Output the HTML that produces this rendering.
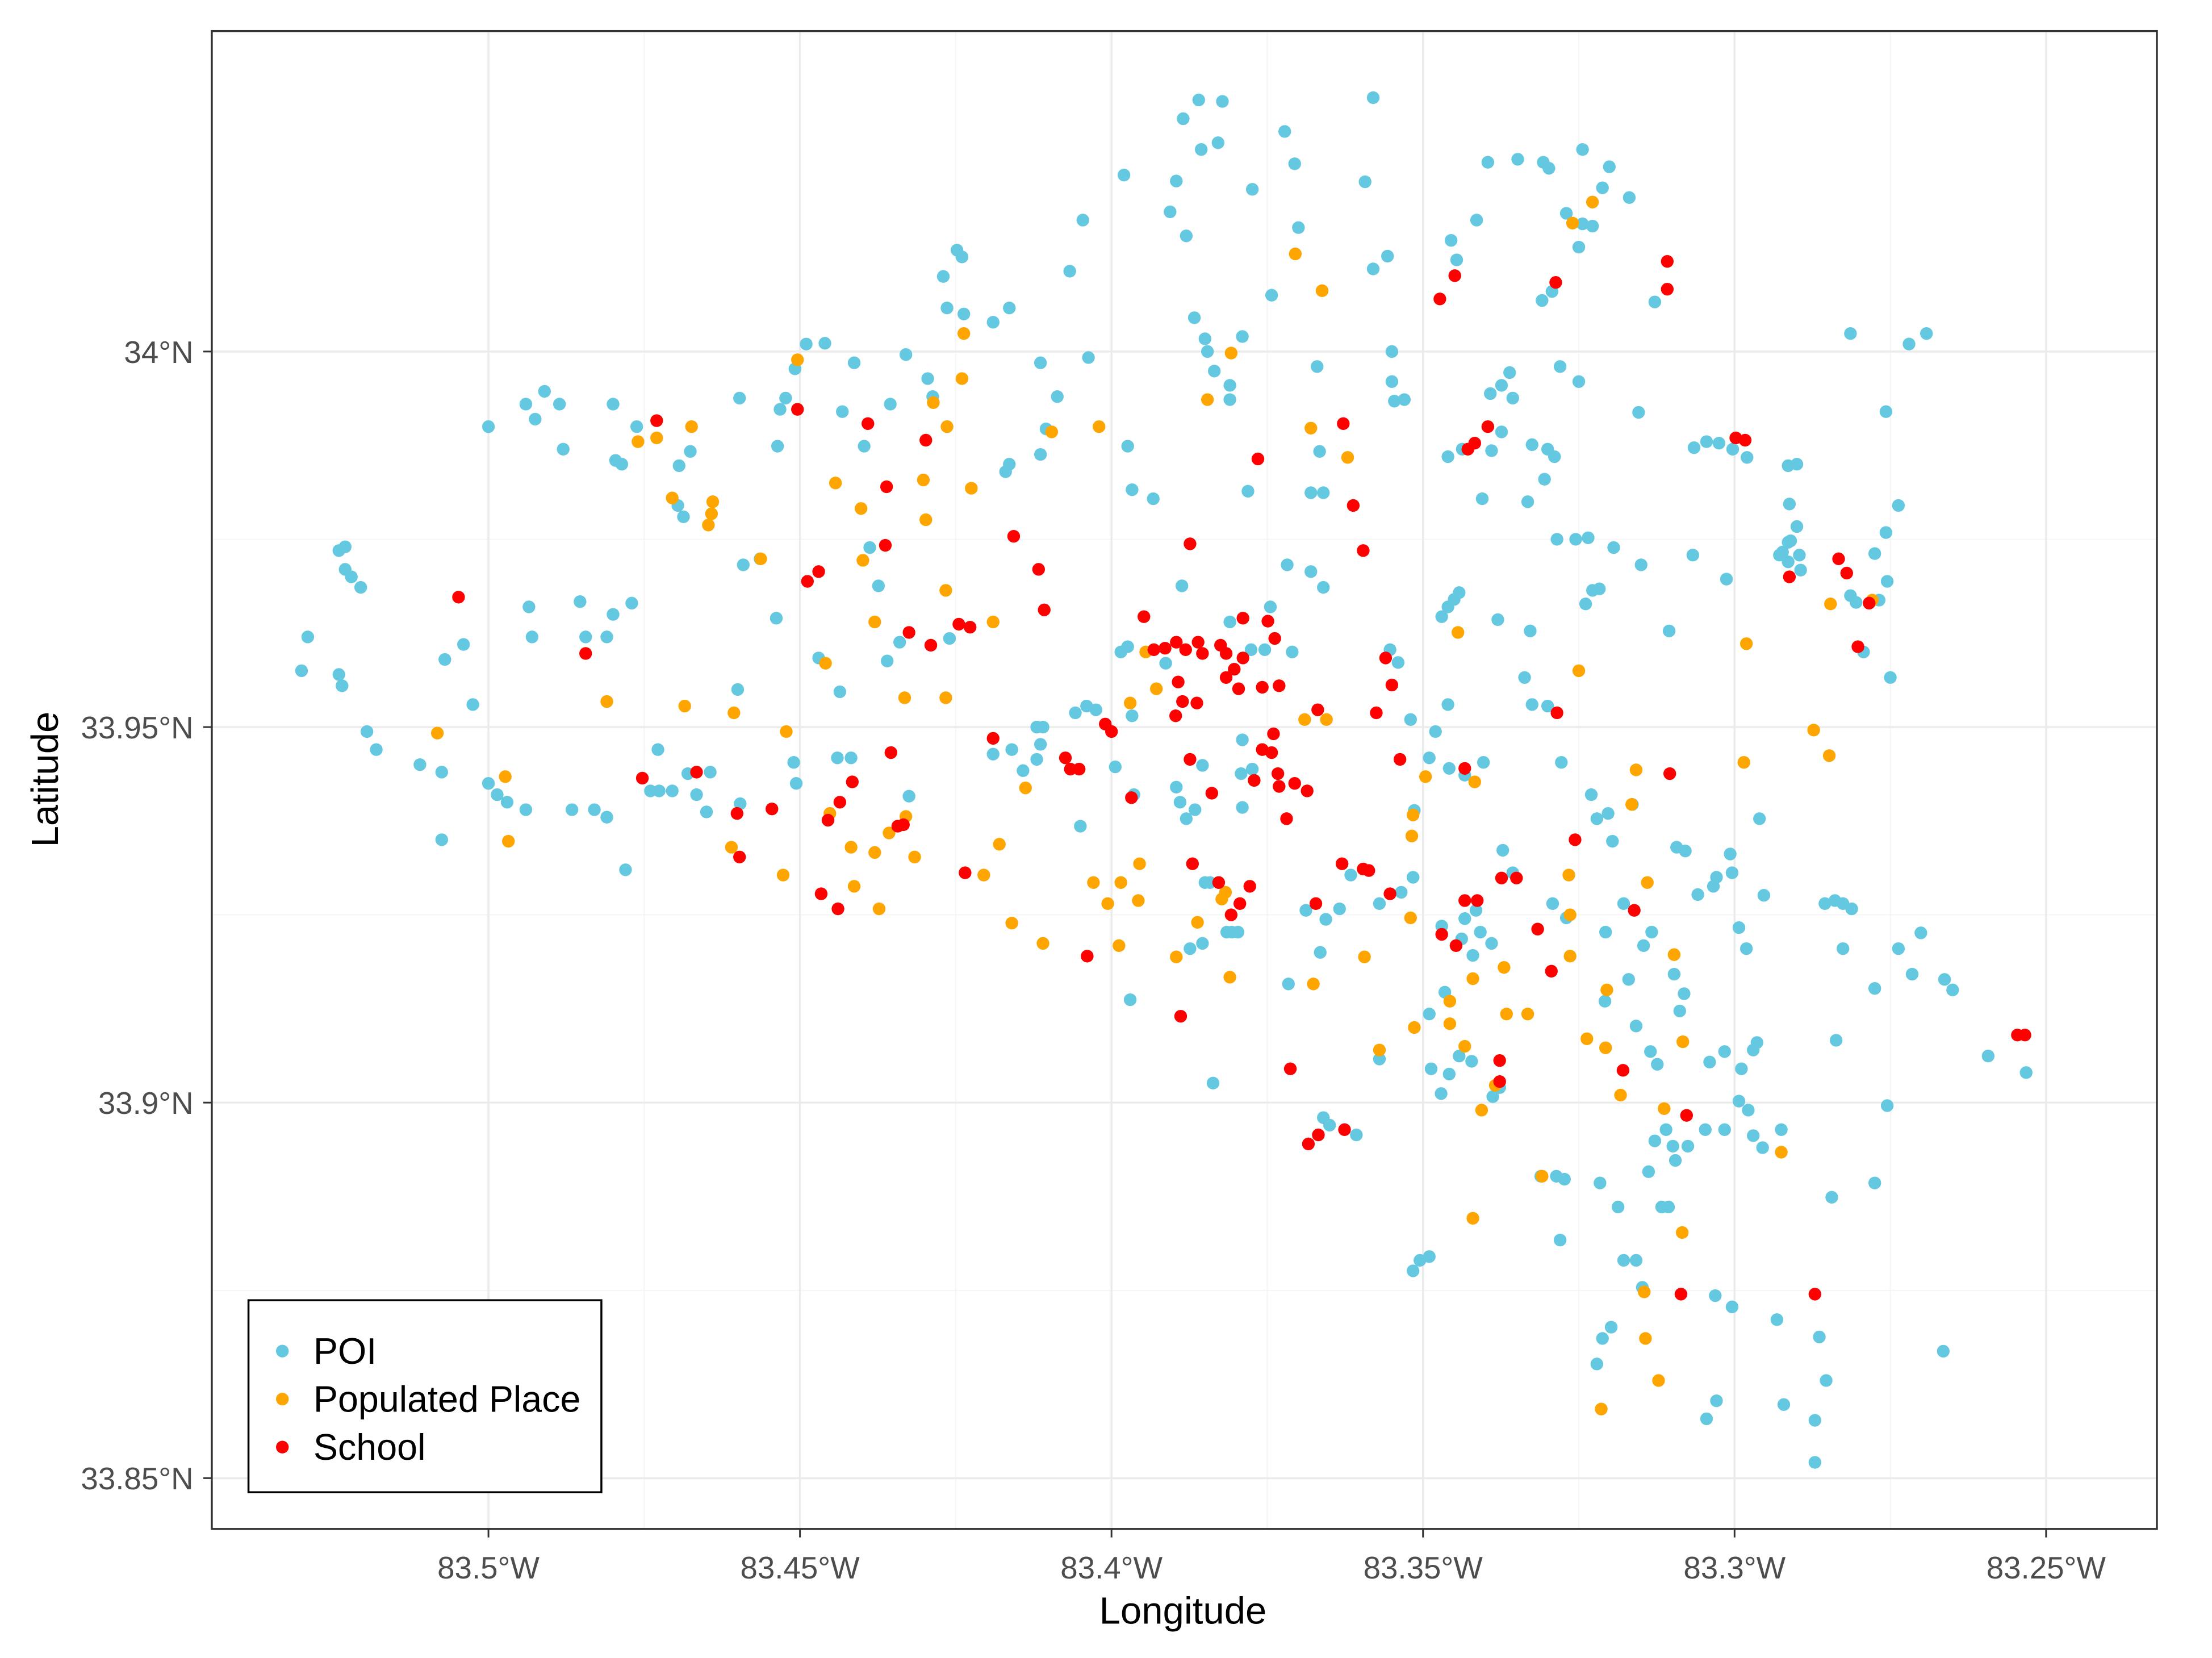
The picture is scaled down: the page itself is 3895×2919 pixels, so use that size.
<!DOCTYPE html>
<html><head><meta charset="utf-8"><style>
html,body{margin:0;padding:0;background:#fff}
svg{display:block}
text{font-family:"Liberation Sans",Arial,sans-serif}
</style></head><body>
<svg id="chart" width="3895" height="2919" viewBox="0 0 1567 1174.4" xmlns="http://www.w3.org/2000/svg">
<rect x="0" y="0" width="1567" height="1175" fill="#fff"/>
<g id="grid"></g>
<g id="points"></g>
<rect x="150" y="22" width="1378" height="1061" fill="none" stroke="#333" stroke-width="1.4"/>
<g id="axes"></g>
<text x="838" y="1150" font-size="27" text-anchor="middle" fill="#000">Longitude</text>
<text transform="translate(41,552) rotate(-90)" font-size="27" text-anchor="middle" fill="#000">Latitude</text>
<g>
<rect x="176" y="921" width="250" height="136" fill="#fff" stroke="#000" stroke-width="1.4"/>
<g><circle cx="200" cy="957" r="4.5" fill="#64c8e1"/><text x="222" y="966" font-size="26" fill="#000">POI</text></g>
<g><circle cx="200" cy="991" r="4.5" fill="#ffa500"/><text x="222" y="1000" font-size="26" fill="#000">Populated Place</text></g>
<g><circle cx="200" cy="1025" r="4.5" fill="#ff0000"/><text x="222" y="1034" font-size="26" fill="#000">School</text></g>
</g>
</svg>
<script>
const xTicks=[83.5,83.45,83.4,83.35,83.3,83.25];
const xTickLabels=["83.5°W","83.45°W","83.4°W","83.35°W","83.3°W","83.25°W"];
const yTicks=[34,33.95,33.9,33.85];
const yTickLabels=["34°N","33.95°N","33.9°N","33.85°N"];
const poi=[[83.530,33.9575],[83.529,33.962],[83.524,33.957],[83.5235,33.9555],[83.524,33.9735],[83.523,33.974],[83.523,33.971],[83.522,33.970],[83.5205,33.9686],[83.5195,33.9494],[83.518,33.947],[83.511,33.945],[83.5075,33.944],[83.5075,33.935],[83.507,33.959],[83.504,33.961],[83.5025,33.953],[83.5,33.990],[83.5,33.9425],[83.4986,33.941],[83.497,33.940],[83.494,33.939],[83.4935,33.966],[83.493,33.962],[83.494,33.993],[83.4925,33.991],[83.491,33.9947],[83.4886,33.993],[83.488,33.987],[83.4866,33.939],[83.4853,33.9667],[83.4844,33.962],[83.483,33.939],[83.481,33.938],[83.481,33.962],[83.48,33.965],[83.48,33.993],[83.4796,33.9855],[83.4786,33.985],[83.478,33.931],[83.477,33.9665],[83.4762,33.990],[83.474,33.9415],[83.4728,33.947],[83.4726,33.9415],[83.4705,33.9415],[83.4694,33.9848],[83.4696,33.9795],[83.4687,33.978],[83.4676,33.9867],[83.468,33.9438],[83.4666,33.941],[83.4644,33.944],[83.465,33.9387],[83.4597,33.9938],[83.4591,33.9716],[83.46,33.955],[83.4596,33.9398],[83.4564,33.9724],[83.4538,33.9645],[83.4536,33.9874],[83.4532,33.9923],[83.4523,33.9938],[83.4508,33.9977],[83.451,33.9453],[83.4506,33.9425],[83.449,34.001],[83.446,34.0011],[83.4432,33.992],[83.4413,33.9985],[83.4397,33.9874],[83.447,33.9592],[83.4436,33.9547],[83.444,33.9459],[83.4418,33.9459],[83.4388,33.9739],[83.4374,33.9688],[83.436,33.9588],[83.4355,33.993],[83.434,33.9613],[83.4325,33.9408],[83.433,33.9996],[83.4295,33.9964],[83.4287,33.994],[83.4264,34.0058],[83.427,34.0100],[83.4248,34.0135],[83.424,34.0126],[83.426,33.9618],[83.4237,34.005],[83.419,34.0039],[83.4164,34.0058],[83.4164,33.985],[83.417,33.984],[83.4114,33.9985],[83.4114,33.9863],[83.4105,33.9897],[83.4087,33.994],[83.412,33.950],[83.411,33.950],[83.4114,33.9477],[83.412,33.9457],[83.416,33.947],[83.419,33.9464],[83.4142,33.9442],[83.4067,34.0107],[83.4046,34.0175],[83.4037,33.9992],[83.398,34.0235],[83.3974,33.9874],[83.3967,33.9816],[83.3933,33.9804],[83.3974,33.9607],[83.3985,33.960],[83.3967,33.9515],[83.4058,33.9519],[83.404,33.9528],[83.4025,33.9523],[83.3994,33.9447],[83.3964,33.941],[83.405,33.9368],[83.397,33.9137],[83.3906,34.0186],[83.3896,34.0227],[83.388,34.0154],[83.3885,34.031],[83.386,34.0335],[83.3856,34.0269],[83.3822,34.0333],[83.3829,34.0278],[83.3867,34.0045],[83.385,34.0017],[83.3846,34.00],[83.3835,33.9974],[83.381,33.9955],[83.381,33.9936],[83.379,34.002],[83.3781,33.9814],[83.3887,33.9688],[83.389,33.940],[83.388,33.9378],[83.3866,33.939],[83.3896,33.942],[83.3854,33.9449],[83.3842,33.9293],[83.3874,33.9205],[83.3854,33.9212],[83.3815,33.9227],[83.3797,33.9227],[83.3837,33.9026],[83.379,33.9483],[83.3776,33.9603],[83.3754,33.9603],[83.3745,33.966],[83.3718,33.9716],[83.368,33.9707],[83.366,33.9686],[83.3774,34.0216],[83.3743,34.0075],[83.3722,34.0293],[83.3706,34.025],[83.37,34.0165],[83.368,33.9812],[83.366,33.9812],[83.367,33.998],[83.3666,33.9867],[83.3593,34.0226],[83.358,34.0338],[83.358,34.011],[83.3557,34.0127],[83.355,34.000],[83.355,33.996],[83.3546,33.9934],[83.353,33.9936],[83.3553,33.9603],[83.354,33.9586],[83.352,33.951],[83.348,33.9494],[83.346,33.953],[83.349,33.9459],[83.3516,33.930],[83.357,33.9265],[83.3535,33.928],[83.3634,33.9258],[83.3656,33.9244],[83.3665,33.92],[83.3716,33.9158],[83.366,33.898],[83.365,33.897],[83.3607,33.8957],[83.357,33.9058],[83.3516,33.8776],[83.3505,33.879],[83.349,33.8795],[83.3487,33.9045],[83.3471,33.9012],[83.3458,33.9038],[83.3442,33.9062],[83.3422,33.9055],[83.3388,33.9008],[83.3377,33.902],[83.349,33.9118],[83.3465,33.9147],[83.347,33.9235],[83.3438,33.9218],[83.3433,33.9245],[83.3415,33.9256],[83.3408,33.9227],[83.339,33.9212],[83.342,33.9196],[83.3356,33.9306],[83.3372,33.9336],[83.3458,33.9445],[83.3433,33.9436],[83.3403,33.9453],[83.346,33.966],[83.345,33.967],[83.347,33.9647],[83.3442,33.9679],[83.338,33.9643],[83.3328,33.9628],[83.3337,33.9566],[83.3405,33.9804],[83.339,33.9868],[83.3374,33.9893],[83.346,33.986],[83.3437,33.987],[83.3392,33.9944],[83.3374,33.9955],[83.3361,33.9972],[83.3356,33.9938],[83.3332,33.980],[83.3325,33.9876],[83.3305,33.983],[83.3289,33.986],[83.3285,33.975],[83.33,33.987],[83.3255,33.975],[83.3235,33.9752],[83.3194,33.9739],[83.3228,33.9682],[83.3239,33.9664],[83.3217,33.9684],[83.328,33.998],[83.325,33.996],[83.3154,33.9919],[83.315,33.9716],[83.3105,33.9628],[83.3067,33.9729],[83.3013,33.9697],[83.3065,33.9872],[83.3045,33.988],[83.3025,33.9878],[83.3003,33.987],[83.298,33.9859],[83.2914,33.9848],[83.29,33.985],[83.2912,33.9797],[83.29,33.9767],[83.2923,33.9733],[83.2914,33.972],[83.2896,33.9729],[83.2914,33.9746],[83.2928,33.9729],[83.291,33.9748],[83.2894,33.9709],[83.2814,34.0024],[83.2757,33.992],[83.272,34.001],[83.2692,34.0024],[83.2737,33.9795],[83.2757,33.9759],[83.2775,33.9731],[83.2755,33.9694],[83.2768,33.9669],[83.2814,33.9675],[83.2805,33.9666],[83.2793,33.96],[83.275,33.9566],[83.3396,34.0252],[83.3414,34.0175],[83.3455,34.0148],[83.3446,34.0122],[83.3348,34.0256],[83.3307,34.0252],[83.3298,34.0244],[83.3244,34.0269],[83.3201,34.0246],[83.3212,34.0218],[83.3169,34.0205],[83.327,34.0184],[83.3244,34.017],[83.3228,34.0167],[83.325,34.0139],[83.3309,34.0068],[83.3293,34.008],[83.3128,34.0066],[83.3325,33.953],[83.33,33.9528],[83.3278,33.9453],[83.323,33.941],[83.3221,33.9378],[83.3203,33.9385],[83.3196,33.9348],[83.3164,33.9397],[83.327,33.9246],[83.3292,33.9265],[83.3207,33.9227],[83.3178,33.9265],[83.3146,33.9209],[83.3133,33.9227],[83.3208,33.9135],[83.317,33.9164],[83.3158,33.9102],[83.3135,33.9068],[83.3124,33.9051],[83.3097,33.9171],[83.3081,33.9145],[83.3088,33.9122],[83.3093,33.934],[83.3079,33.9335],[83.3059,33.9277],[83.3034,33.9288],[83.3029,33.93],[83.3007,33.9331],[83.3004,33.9306],[83.2993,33.9233],[83.296,33.9378],[83.2953,33.9276],[83.2981,33.9205],[83.304,33.9054],[83.3016,33.9068],[83.2989,33.9045],[83.297,33.907],[83.2964,33.908],[83.2993,33.9002],[83.2978,33.899],[83.297,33.8956],[83.3047,33.8964],[83.3016,33.8964],[83.3128,33.8949],[83.311,33.8964],[83.3099,33.8942],[83.3095,33.8923],[83.3075,33.8942],[83.3138,33.8908],[83.3117,33.8861],[83.3106,33.8861],[83.3216,33.8893],[83.3311,33.8902],[83.3286,33.8902],[83.3273,33.8898],[83.3187,33.8861],[83.328,33.8817],[83.3178,33.879],[83.3158,33.879],[83.3148,33.8754],[83.3031,33.8743],[83.3004,33.8728],[83.2932,33.8711],[83.2925,33.8964],[83.2955,33.894],[83.2844,33.8874],[83.2837,33.9083],[83.2855,33.9265],[83.2839,33.9269],[83.2826,33.9265],[83.2812,33.9258],[83.2826,33.9205],[83.2775,33.9152],[83.2737,33.9205],[83.2715,33.9171],[83.2701,33.9226],[83.2663,33.9164],[83.265,33.915],[83.2593,33.9062],[83.2532,33.904],[83.2755,33.8996],[83.2775,33.8893],[83.2864,33.8688],[83.2853,33.863],[83.2871,33.8577],[83.2871,33.8521],[83.2921,33.8598],[83.3029,33.8603],[83.3045,33.8579],[83.3198,33.8701],[83.3212,33.8686],[83.3221,33.8652],[83.2665,33.8669],[83.3514,33.9389],[83.3616,33.9303],[83.3688,33.9256],[83.3807,33.9227],[83.371,33.96],[83.381,33.964],[83.379,33.9393],[83.3774,33.9444],[83.3792,33.9438],[83.3913,33.9585],[83.385,33.9293]];
const populated=[[83.5082,33.9492],[83.4973,33.9434],[83.4968,33.9348],[83.481,33.9534],[83.476,33.988],[83.473,33.9885],[83.4674,33.990],[83.4705,33.9805],[83.464,33.980],[83.4642,33.9784],[83.4647,33.9769],[83.4685,33.9528],[83.4606,33.9519],[83.461,33.934],[83.4563,33.9724],[83.4522,33.9494],[83.4527,33.9303],[83.4504,33.9989],[83.4443,33.9825],[83.4402,33.9791],[83.4399,33.9722],[83.438,33.964],[83.4459,33.9585],[83.4452,33.9385],[83.4418,33.934],[83.4413,33.9288],[83.438,33.9333],[83.4373,33.9258],[83.4357,33.9359],[83.433,33.9381],[83.4316,33.9327],[83.4332,33.9539],[83.4302,33.9829],[83.4298,33.9776],[83.4286,33.9932],[83.4264,33.990],[83.424,33.9964],[83.4237,34.0024],[83.4225,33.9818],[83.4266,33.9682],[83.4266,33.9539],[83.419,33.964],[83.418,33.9344],[83.4205,33.9303],[83.416,33.9239],[83.4138,33.9419],[83.411,33.9212],[83.4096,33.9893],[83.402,33.990],[83.4029,33.9293],[83.4006,33.9265],[83.3985,33.9293],[83.3957,33.9269],[83.3955,33.9318],[83.3988,33.9209],[83.397,33.9532],[83.3945,33.96],[83.3928,33.9551],[83.3896,33.9194],[83.3862,33.924],[83.3846,33.9936],[83.3823,33.9271],[83.3817,33.928],[83.381,33.9167],[83.3808,33.9998],[83.3705,34.013],[83.3662,34.0081],[83.368,33.9898],[83.3621,33.9859],[83.369,33.951],[83.3655,33.951],[83.3676,33.9158],[83.3594,33.9194],[83.357,33.907],[83.352,33.9246],[83.3518,33.9355],[83.3516,33.9383],[83.3496,33.9434],[83.3514,33.91],[83.3457,33.9135],[83.3457,33.9105],[83.3433,33.9075],[83.342,33.9165],[83.3406,33.899],[83.342,33.8846],[83.3384,33.9023],[83.337,33.918],[83.3366,33.9118],[83.3332,33.9118],[83.3444,33.9626],[83.3417,33.9427],[83.3309,33.8902],[83.3266,33.9303],[83.3264,33.925],[83.3264,33.9195],[83.325,33.9575],[83.3237,33.9085],[83.3207,33.9073],[83.3214,33.8592],[83.3205,33.915],[83.3183,33.901],[83.3158,33.9443],[83.3165,33.9397],[83.314,33.9293],[83.3145,33.8748],[83.3143,33.8686],[83.3122,33.863],[83.3097,33.9197],[83.3083,33.9081],[83.3084,33.8827],[83.3113,33.8992],[83.326,34.0171],[83.3228,34.0199],[83.2981,33.9611],[83.2985,33.9453],[83.2925,33.8934],[83.2873,33.9496],[83.2848,33.9462],[83.2846,33.9664],[83.2779,33.9669]];
const school=[[83.5048,33.9673],[83.4844,33.9598],[83.4753,33.9432],[83.473,33.9908],[83.4666,33.944],[83.4601,33.9385],[83.4597,33.9327],[83.4545,33.9391],[83.4504,33.9923],[83.4488,33.9694],[83.447,33.9707],[83.4466,33.9278],[83.4439,33.9258],[83.4455,33.9376],[83.4436,33.94],[83.4416,33.9427],[83.4391,33.9904],[83.4361,33.982],[83.4363,33.9742],[83.4354,33.9466],[83.4343,33.9368],[83.4334,33.937],[83.4325,33.9626],[83.4298,33.9882],[83.429,33.9609],[83.4245,33.9637],[83.4227,33.9633],[83.4235,33.9306],[83.419,33.9485],[83.4157,33.9754],[83.4117,33.971],[83.4108,33.9656],[83.4074,33.9459],[83.4066,33.9444],[83.4052,33.9444],[83.4039,33.9195],[83.401,33.9504],[83.4,33.9494],[83.3968,33.9406],[83.3948,33.9647],[83.3932,33.9603],[83.3914,33.9605],[83.3896,33.9613],[83.3881,33.9603],[83.3861,33.9613],[83.3854,33.9598],[83.3893,33.956],[83.3886,33.9534],[83.3897,33.9515],[83.3874,33.9744],[83.3874,33.9457],[83.3863,33.9532],[83.387,33.9318],[83.3889,33.9115],[83.3839,33.9412],[83.3825,33.9609],[83.3816,33.9598],[83.3803,33.9577],[83.3789,33.9592],[83.3816,33.9566],[83.3796,33.9551],[83.3789,33.9645],[83.3828,33.9293],[83.3794,33.9265],[83.3778,33.9288],[83.3808,33.925],[83.3771,33.9429],[83.3765,33.9857],[83.3758,33.947],[83.3743,33.9466],[83.3749,33.9641],[83.3738,33.9618],[83.374,33.9491],[83.3733,33.9438],[83.3731,33.9421],[83.3719,33.9378],[83.3758,33.9553],[83.3731,33.9555],[83.3706,33.9425],[83.3686,33.9415],[83.3713,33.9045],[83.3684,33.8945],[83.3668,33.8957],[83.3672,33.9265],[83.3669,33.9523],[83.3628,33.9904],[83.363,33.9318],[83.3612,33.9795],[83.3626,33.8964],[83.3596,33.9735],[83.3596,33.9311],[83.3587,33.9309],[83.3575,33.9519],[83.356,33.9592],[83.355,33.9556],[83.3553,33.9278],[83.3537,33.9457],[83.3473,34.007],[83.3449,34.0101],[83.347,33.9224],[83.3428,33.987],[83.3417,33.9878],[83.3396,33.99],[83.3433,33.9445],[83.3433,33.9269],[83.3413,33.9269],[83.3447,33.9209],[83.3377,33.9056],[83.3377,33.9028],[83.3374,33.9299],[83.335,33.9299],[83.3316,33.9231],[83.3294,33.9175],[83.3285,33.9519],[83.3287,34.0092],[83.3256,33.935],[83.3179,33.9043],[83.3161,33.9256],[83.3108,34.012],[83.3108,34.0083],[83.3104,33.9438],[83.3086,33.8745],[83.3077,33.8983],[83.2998,33.9885],[83.2983,33.9882],[83.2912,33.97],[83.2871,33.8745],[83.2833,33.9724],[83.282,33.9705],[83.2802,33.9607],[83.2784,33.9665],[83.2546,33.909],[83.2534,33.909]];

const NS='http://www.w3.org/2000/svg';
function xs(lonW){return 346+(83.5-lonW)*4414;}
function ys(lat){return 249+(34-lat)*5320;}
const grid=document.getElementById('grid');
const axes=document.getElementById('axes');
function mk(tag,attrs,parent){const e=document.createElementNS(NS,tag);for(const k in attrs)e.setAttribute(k,attrs[k]);parent.appendChild(e);return e;}
for(let i=0;i<xTicks.length-1;i++){
  const xm=(xs(xTicks[i])+xs(xTicks[i+1]))/2;
  const g=mk('line',{x1:xm,x2:xm,y1:22,y2:1083,stroke:'#f4f4f4','stroke-width':0.7},grid);
  
  
}
for(let i=0;i<yTicks.length-1;i++){
  const ym=(ys(yTicks[i])+ys(yTicks[i+1]))/2;
  const g=mk('line',{x1:150,x2:1528,y1:ym,y2:ym,stroke:'#f4f4f4','stroke-width':0.7},grid);
  
  
}
xTicks.forEach((v,i)=>{
  const x=xs(v);
  const g=mk('line',{x1:x,x2:x,y1:22,y2:1083,stroke:'#ebebeb','stroke-width':1.4},grid);
  
  
  const t=mk('line',{x1:x,x2:x,y1:1083,y2:1089,stroke:'#333','stroke-width':1.2},axes);
  
  
  const l=mk('text',{x:x,y:1118,'font-size':22,'text-anchor':'middle',fill:'#4d4d4d'},axes);
  l.textContent=xTickLabels[i];
  
  
});
yTicks.forEach((v,i)=>{
  const y=ys(v);
  const g=mk('line',{x1:150,x2:1528,y1:y,y2:y,stroke:'#ebebeb','stroke-width':1.4},grid);
  
  
  const t=mk('line',{x1:144,x2:150,y1:y,y2:y,stroke:'#333','stroke-width':1.2},axes);
  
  
  const l=mk('text',{x:137,y:y+8,'font-size':22,'text-anchor':'end',fill:'#4d4d4d'},axes);
  l.textContent=yTickLabels[i];
  
  
});
const pts=document.getElementById('points');
function drawSeries(arr,color,name){
  arr.forEach(p=>{
    const c=mk('circle',{cx:xs(p[0]),cy:ys(p[1]),r:4.5,fill:color},pts);
    
    
  });
}
drawSeries(poi,'#64c8e1','poi-point');
drawSeries(populated,'#ffa500','populated-place-point');
drawSeries(school,'#ff0000','school-point');
</script>
</body></html>
